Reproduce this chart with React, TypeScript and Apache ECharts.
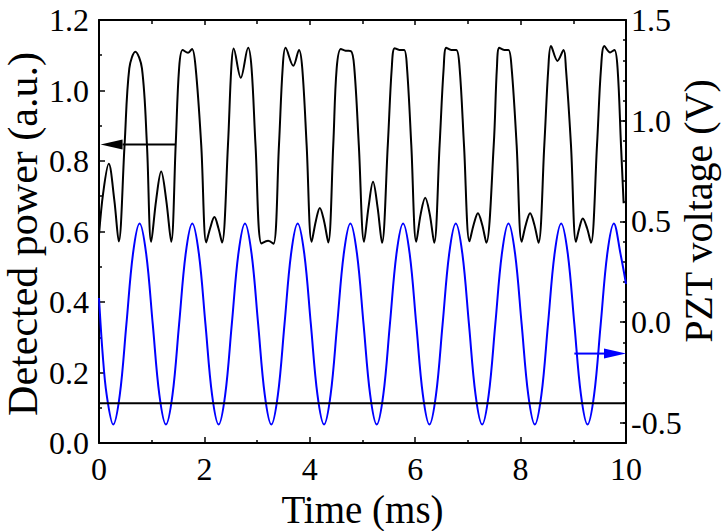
import React, { useEffect, useRef } from 'react';
import * as echarts from 'echarts';

// Detected power (left axis, a.u.) vs time (ms)
const blackTime = [
  0.0, 0.08, 0.185, 0.29, 0.375,
  0.485, 0.575, 0.69, 0.815, 0.91, 0.99,
  1.085, 1.18, 1.275, 1.37,
  1.455, 1.52, 1.587, 1.69, 1.765, 1.835, 1.94, 2.035,
  2.11, 2.19, 2.265, 2.335,
  2.447, 2.51, 2.555, 2.69, 2.83, 2.895, 2.97, 3.085, 3.21, 3.31,
  3.415, 3.485, 3.54, 3.687, 3.795, 3.857, 3.94, 4.035,
  4.115, 4.19, 4.27, 4.35,
  4.445, 4.51, 4.59, 4.68, 4.78, 4.845, 4.93, 5.03,
  5.115, 5.2, 5.285, 5.37,
  5.48, 5.555, 5.61, 5.7, 5.79, 5.845, 5.926, 6.02,
  6.105, 6.19, 6.275, 6.36,
  6.463, 6.54, 6.59, 6.685, 6.78, 6.843, 6.926, 7.03,
  7.11, 7.19, 7.27, 7.35,
  7.49, 7.55, 7.596, 7.69, 7.77, 7.83, 7.925, 8.02,
  8.1, 8.18, 8.26, 8.34,
  8.45, 8.526, 8.577, 8.7, 8.816, 8.86, 8.956, 9.05,
  9.115, 9.18, 9.26, 9.336,
  9.45, 9.526, 9.59, 9.7, 9.78, 9.84, 9.905, 9.955,
];
const blackPower = [
  0.59, 0.71, 0.792, 0.69, 0.572,
  0.845, 1.063, 1.11, 1.063, 0.845, 0.571,
  0.69, 0.77, 0.69, 0.571,
  0.845, 1.063, 1.115, 1.107, 1.118, 1.063, 0.845, 0.569,
  0.61, 0.641, 0.61, 0.569,
  0.845, 1.063, 1.119, 1.036, 1.121, 1.063, 0.845, 0.566, 0.574, 0.565,
  0.845, 1.063, 1.121, 1.07, 1.115, 1.063, 0.845, 0.571,
  0.63, 0.667, 0.63, 0.569,
  0.845, 1.063, 1.118, 1.113, 1.112, 1.063, 0.845, 0.571,
  0.67, 0.741, 0.67, 0.568,
  0.845, 1.063, 1.12, 1.115, 1.115, 1.063, 0.845, 0.571,
  0.65, 0.696, 0.65, 0.568,
  0.845, 1.063, 1.121, 1.115, 1.115, 1.063, 0.845, 0.572,
  0.62, 0.652, 0.62, 0.568,
  0.845, 1.063, 1.121, 1.115, 1.115, 1.063, 0.845, 0.571,
  0.62, 0.652, 0.62, 0.568,
  0.845, 1.063, 1.126, 1.084, 1.115, 1.063, 0.845, 0.571,
  0.61, 0.637, 0.61, 0.568,
  0.845, 1.063, 1.126, 1.108, 1.115, 1.063, 0.845, 0.68,
];

// PZT voltage (right axis, V) vs time (ms)
const blueTime = [
  0.0, 0.07, 0.145, 0.27, 0.395, 0.52, 0.645, 0.77, 0.895,
  1.02, 1.145, 1.27, 1.395, 1.52, 1.645, 1.77, 1.895,
  2.02, 2.145, 2.27, 2.395, 2.52, 2.645, 2.77, 2.895,
  3.02, 3.145, 3.27, 3.395, 3.52, 3.645, 3.77, 3.895,
  4.02, 4.145, 4.27, 4.395, 4.52, 4.645, 4.77, 4.895,
  5.02, 5.145, 5.27, 5.395, 5.52, 5.645, 5.77, 5.895,
  6.02, 6.145, 6.27, 6.395, 6.52, 6.645, 6.77, 6.895,
  7.02, 7.145, 7.27, 7.395, 7.52, 7.645, 7.77, 7.895,
  8.02, 8.145, 8.27, 8.395, 8.52, 8.645, 8.77, 8.895,
  9.02, 9.145, 9.27, 9.395, 9.52, 9.645, 9.77, 9.895, 10.0,
];
const blueVoltage = [
  0.12, -0.16, -0.36, -0.508, -0.36, -0.01, 0.34, 0.49, 0.34,
  -0.01, -0.36, -0.508, -0.36, -0.01, 0.34, 0.49, 0.34,
  -0.01, -0.36, -0.508, -0.36, -0.01, 0.34, 0.49, 0.34,
  -0.01, -0.36, -0.508, -0.36, -0.01, 0.34, 0.49, 0.34,
  -0.01, -0.36, -0.508, -0.36, -0.01, 0.34, 0.49, 0.34,
  -0.01, -0.36, -0.508, -0.36, -0.01, 0.34, 0.49, 0.34,
  -0.01, -0.36, -0.508, -0.36, -0.01, 0.34, 0.49, 0.34,
  -0.01, -0.36, -0.508, -0.36, -0.01, 0.34, 0.49, 0.34,
  -0.01, -0.36, -0.508, -0.36, -0.01, 0.34, 0.49, 0.34,
  -0.01, -0.36, -0.508, -0.36, -0.01, 0.34, 0.49, 0.34, 0.19,
];

// Horizontal reference level (left axis)
const baselineTime = [0, 10];
const baselineLevel = [0.113, 0.113];

// Arrows: [start time, level, tip time]
const powerArrow = [1.45, 0.847, 0.03];
const voltageArrow = [9.02, -0.156, 10];

const rightMajorTicks = [-0.5, 0, 0.5, 1.0, 1.5];

const leftTitle = 'Detected power (a.u.)';
const rightTitle = 'PZT voltage (V)';
const bottomTitle = 'Time (ms)';

const FONT = 'Liberation Serif';

function arrowRenderer(color: string) {
  return (params: any, api: any) => {
    const y = api.value(1);
    const start = api.coord([api.value(0), y]);
    const tip = api.coord([api.value(2), y]);
    const dir = Math.sign(tip[0] - start[0]);
    const headLen = 22;
    const half = 5;
    const base = tip[0] - dir * headLen;
    return {
      type: 'group',
      children: [
        {
          type: 'line',
          shape: { x1: start[0], y1: start[1], x2: base, y2: tip[1] },
          style: { stroke: color, lineWidth: 2 },
        },
        {
          type: 'polygon',
          shape: { points: [[tip[0], tip[1]], [base, tip[1] - half], [base, tip[1] + half]] },
          style: { fill: color },
        },
      ],
    };
  };
}

export default function App() {
  const ref = useRef<HTMLDivElement>(null);
  useEffect(() => {
    if (!ref.current) return;
    const chart = echarts.init(ref.current, undefined, { renderer: 'svg' });
    const axisLine = { show: true, onZero: false, lineStyle: { color: '#000', width: 2 } };
    const labelStyle = { color: '#000', fontFamily: FONT, fontSize: 32 };
    const option: any = {
      animation: false,
      backgroundColor: '#fff',
      textStyle: { fontFamily: FONT },
      grid: { left: 99, right: 96, top: 20, bottom: 88, containLabel: false, outerBoundsMode: 'none' },
      graphic: [
        {
          type: 'text', x: 23, y: 234, rotation: Math.PI / 2,
          style: { text: leftTitle, fontSize: 42, fontFamily: FONT, fill: '#000', align: 'center', verticalAlign: 'middle' },
        },
        {
          type: 'text', x: 698, y: 211, rotation: Math.PI / 2,
          style: { text: rightTitle, fontSize: 40, fontFamily: FONT, fill: '#000', align: 'center', verticalAlign: 'middle' },
        },
      ],
      xAxis: [
        {
          type: 'value', min: 0, max: 10, interval: 2, position: 'bottom',
          name: bottomTitle, nameLocation: 'middle', nameGap: 44,
          nameTextStyle: { color: '#000', fontFamily: FONT, fontSize: 39 },
          axisLine,
          axisTick: { show: true, inside: true, length: 6, lineStyle: { color: '#000', width: 1.5 } },
          minorTick: { show: true, splitNumber: 2, length: 3, lineStyle: { color: '#000', width: 1.5 } },
          axisLabel: { ...labelStyle, margin: 10, formatter: (v: number) => String(Math.round(v)) },
          splitLine: { show: false },
        },
        {
          type: 'value', min: 0, max: 10, interval: 2, position: 'top',
          axisLine,
          axisTick: { show: true, inside: true, length: 5, lineStyle: { color: '#000', width: 1.5 } },
          minorTick: { show: true, splitNumber: 2, length: 4, lineStyle: { color: '#000', width: 1.5 } },
          axisLabel: { show: false },
          splitLine: { show: false },
        },
      ],
      yAxis: [
        {
          type: 'value', min: 0, max: 1.2, interval: 0.2, position: 'left',
          axisLine,
          axisTick: { show: true, inside: true, length: 6, lineStyle: { color: '#000', width: 1.5 } },
          minorTick: { show: true, splitNumber: 2, length: 3, lineStyle: { color: '#000', width: 1.5 } },
          axisLabel: { ...labelStyle, margin: 10, formatter: (v: number) => v.toFixed(1) },
          splitLine: { show: false },
        },
        {
          type: 'value', min: -0.6, max: 1.5, interval: 0.1, position: 'right',
          axisLine,
          axisTick: { show: true, inside: true, length: 3, lineStyle: { color: '#000', width: 1.5 } },
          axisLabel: {
            ...labelStyle, margin: 5,
            formatter: (v: number) => {
              const d = v * 2;
              return Math.abs(d - Math.round(d)) < 1e-6 ? (Math.abs(v) < 1e-9 ? '0.0' : v.toFixed(1)) : '';
            },
          },
          splitLine: { show: false },
        },
        {
          type: 'value', min: -0.6, max: 1.5, position: 'right',
          axisLine: { show: false, onZero: false },
          axisTick: { show: true, inside: true, length: 6, customValues: rightMajorTicks, lineStyle: { color: '#000', width: 1.5 } },
          axisLabel: { show: false },
          splitLine: { show: false },
        },
      ],
      series: [
        {
          type: 'line', xAxisIndex: 0, yAxisIndex: 0,
          data: blackTime.map((t, i) => [t, blackPower[i]]),
          showSymbol: false, smooth: 0.35,
          lineStyle: { color: '#000', width: 2 },
          z: 3,
        },
        {
          type: 'line', xAxisIndex: 0, yAxisIndex: 0,
          data: baselineTime.map((t, i) => [t, baselineLevel[i]]),
          showSymbol: false,
          lineStyle: { color: '#000', width: 2 },
          z: 3,
        },
        {
          type: 'line', xAxisIndex: 0, yAxisIndex: 1,
          data: blueTime.map((t, i) => [t, blueVoltage[i]]),
          showSymbol: false, smooth: 0.35,
          lineStyle: { color: '#0000ff', width: 2 },
          z: 2,
        },
        {
          type: 'custom', xAxisIndex: 0, yAxisIndex: 0,
          data: [powerArrow],
          renderItem: arrowRenderer('#000'),
          clip: false, z: 4,
        },
        {
          type: 'custom', xAxisIndex: 0, yAxisIndex: 1,
          data: [voltageArrow],
          renderItem: arrowRenderer('#0000ff'),
          clip: false, z: 4,
        },
      ],
    };
    chart.setOption(option);
    return () => chart.dispose();
  }, []);
  return (
    <div
      ref={ref}
      style={{ position: 'absolute', left: 0, top: 0, width: 722, height: 531 }}
    />
  );
}
